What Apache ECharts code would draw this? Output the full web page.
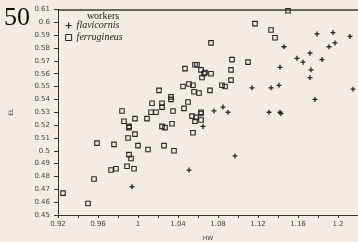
<!DOCTYPE html>
<html>
<head>
<meta charset="utf-8">
<script src="https://cdn.jsdelivr.net/npm/echarts@6/dist/echarts.min.js"></script>
<style>
  html, body { margin: 0; padding: 0; background: #f3ece3; }
  #chart { width: 358px; height: 242px; }
</style>
</head>
<body>
<div id="chart"></div>
<script>
// Worker head width (HW) vs eye length (EL), two species

const flavHW = [1.114, 1.076, 1.085, 1.090, 1.131, 1.142, 1.143, 1.179, 1.195, 1.212,
  1.197, 1.191, 1.146, 1.172, 1.159, 1.165, 1.184, 1.142, 1.173, 1.172,
  1.133, 1.141, 1.215, 1.177, 1.065, 1.097, 1.051, 0.994];
const flavEL = [0.549, 0.531, 0.534, 0.530, 0.530, 0.530, 0.529, 0.591, 0.592, 0.589,
  0.584, 0.581, 0.581, 0.576, 0.572, 0.569, 0.571, 0.565, 0.563, 0.557,
  0.549, 0.551, 0.548, 0.540, 0.519, 0.496, 0.485, 0.472];

const ferrHW = [1.117, 1.073, 1.094, 1.110, 1.047, 1.057, 1.059, 1.063, 1.067, 1.066,
  1.064, 1.073, 1.093, 1.093, 1.084, 1.087, 1.072, 1.045, 1.051, 1.055,
  1.056, 1.061, 1.021, 1.033, 1.033, 1.024, 1.024, 1.014, 1.050, 1.046,
  1.035, 1.063, 0.984, 1.013, 1.018, 1.054, 1.058, 1.063, 1.057, 1.063,
  1.024, 1.027, 1.034, 1.055, 1.026, 1.036, 0.997, 1.009, 0.986, 0.991,
  0.991, 0.997, 0.990, 0.959, 0.976, 1.000, 1.010, 0.991, 0.993, 0.989,
  0.996, 0.978, 0.973, 0.956, 0.925, 0.950, 1.150, 1.133, 1.137];
const ferrEL = [0.599, 0.584, 0.571, 0.569, 0.564, 0.567, 0.567, 0.563, 0.561, 0.560,
  0.557, 0.560, 0.563, 0.555, 0.551, 0.550, 0.547, 0.550, 0.552, 0.551,
  0.546, 0.545, 0.547, 0.542, 0.540, 0.537, 0.534, 0.537, 0.538, 0.533,
  0.531, 0.530, 0.531, 0.530, 0.530, 0.527, 0.526, 0.529, 0.523, 0.524,
  0.519, 0.518, 0.521, 0.514, 0.504, 0.500, 0.525, 0.525, 0.523, 0.519,
  0.518, 0.513, 0.510, 0.506, 0.505, 0.504, 0.501, 0.497, 0.494, 0.488,
  0.486, 0.486, 0.485, 0.478, 0.467, 0.459, 0.609, 0.594, 0.588];

// x ticks every 0.02, only these carry a label
const xLabelled = [0.92, 0.96, 1, 1.04, 1.08, 1.12, 1.16, 1.2];

const INK = '#262626';
const CROSS = 'path://M5,0V10M0,5H10';
const zip = (xs, ys) => xs.map((x, i) => [x, ys[i]]);

const chart = echarts.init(document.getElementById('chart'), null, { renderer: 'canvas' });
chart.setOption({
  backgroundColor: '#f3ece3',
  animation: false,
  grid: { left: 58, right: 0, top: 9.5, bottom: 27, outerBoundsMode: 'none' },
  xAxis: [{
    type: 'value', min: 0.92, max: 1.22, interval: 0.02,
    name: 'HW', nameLocation: 'middle', nameGap: 20, nameMoveOverlap: false,
    nameTextStyle: { fontSize: 6, color: '#444', fontFamily: 'DejaVu Sans' },
    axisLine: { lineStyle: { color: '#333', width: 1 } },
    axisTick: { length: 3, lineStyle: { color: '#333' } },
    axisLabel: {
      margin: 6, fontSize: 7, color: '#444', fontFamily: 'DejaVu Sans',
      showMinLabel: true, showMaxLabel: true, hideOverlap: false,
      formatter: (v) => xLabelled.some(t => Math.abs(t - v) < 1e-6) ? String(+v.toFixed(2)) : ''
    },
    splitLine: { show: false }
  }, {
    // top frame line only
    type: 'value', position: 'top', min: 0.92, max: 1.22,
    axisLine: { show: true, lineStyle: { color: '#3a3a3a', width: 1.5 } },
    axisTick: { show: false }, axisLabel: { show: false }, splitLine: { show: false }
  }],
  yAxis: {
    type: 'value', min: 0.45, max: 0.61, interval: 0.01,
    name: 'EL', nameLocation: 'middle', nameGap: 44, nameRotate: 90, nameMoveOverlap: false,
    nameTextStyle: { fontSize: 6, color: '#444', fontFamily: 'DejaVu Sans' },
    axisLine: { show: true, lineStyle: { color: '#333', width: 1 } },
    axisTick: { show: true, length: 4, lineStyle: { color: '#333' } },
    axisLabel: {
      margin: 8, fontSize: 7, color: '#444', fontFamily: 'DejaVu Sans',
      formatter: (v) => String(+v.toFixed(2))
    },
    splitLine: { show: false }
  },
  legend: {
    orient: 'vertical', left: 65, top: 20, padding: 0, itemGap: 1,
    itemWidth: 6, itemHeight: 6,
    textStyle: { fontFamily: 'Liberation Serif', fontStyle: 'italic', fontSize: 10, color: '#222', lineHeight: 11 },
    data: [
      { name: 'flavicornis', icon: CROSS, itemStyle: { color: INK, borderColor: INK, borderWidth: 1.2 } },
      { name: 'ferrugineus', icon: 'rect', itemStyle: { color: 'rgba(0,0,0,0)', borderColor: INK, borderWidth: 1 } }
    ]
  },
  graphic: [
    { type: 'text', left: 4, top: 5,
      style: { text: '50', font: '26px "Liberation Serif"', fill: '#111' } },
    { type: 'text', x: 103, y: 16.6,
      style: { text: 'workers', font: '10px "Liberation Serif"', fill: '#222', align: 'center', verticalAlign: 'middle' } }
  ],
  series: [
    {
      name: 'flavicornis', type: 'scatter', data: zip(flavHW, flavEL),
      symbol: CROSS, symbolSize: 5,
      itemStyle: { color: INK, borderColor: INK, borderWidth: 1.3, opacity: 1 }
    },
    {
      name: 'ferrugineus', type: 'scatter', data: zip(ferrHW, ferrEL),
      symbol: 'rect', symbolSize: 4.5,
      itemStyle: { color: 'rgba(0,0,0,0)', borderColor: INK, borderWidth: 1.1, opacity: 1 }
    }
  ]
});
</script>
</body>
</html>
